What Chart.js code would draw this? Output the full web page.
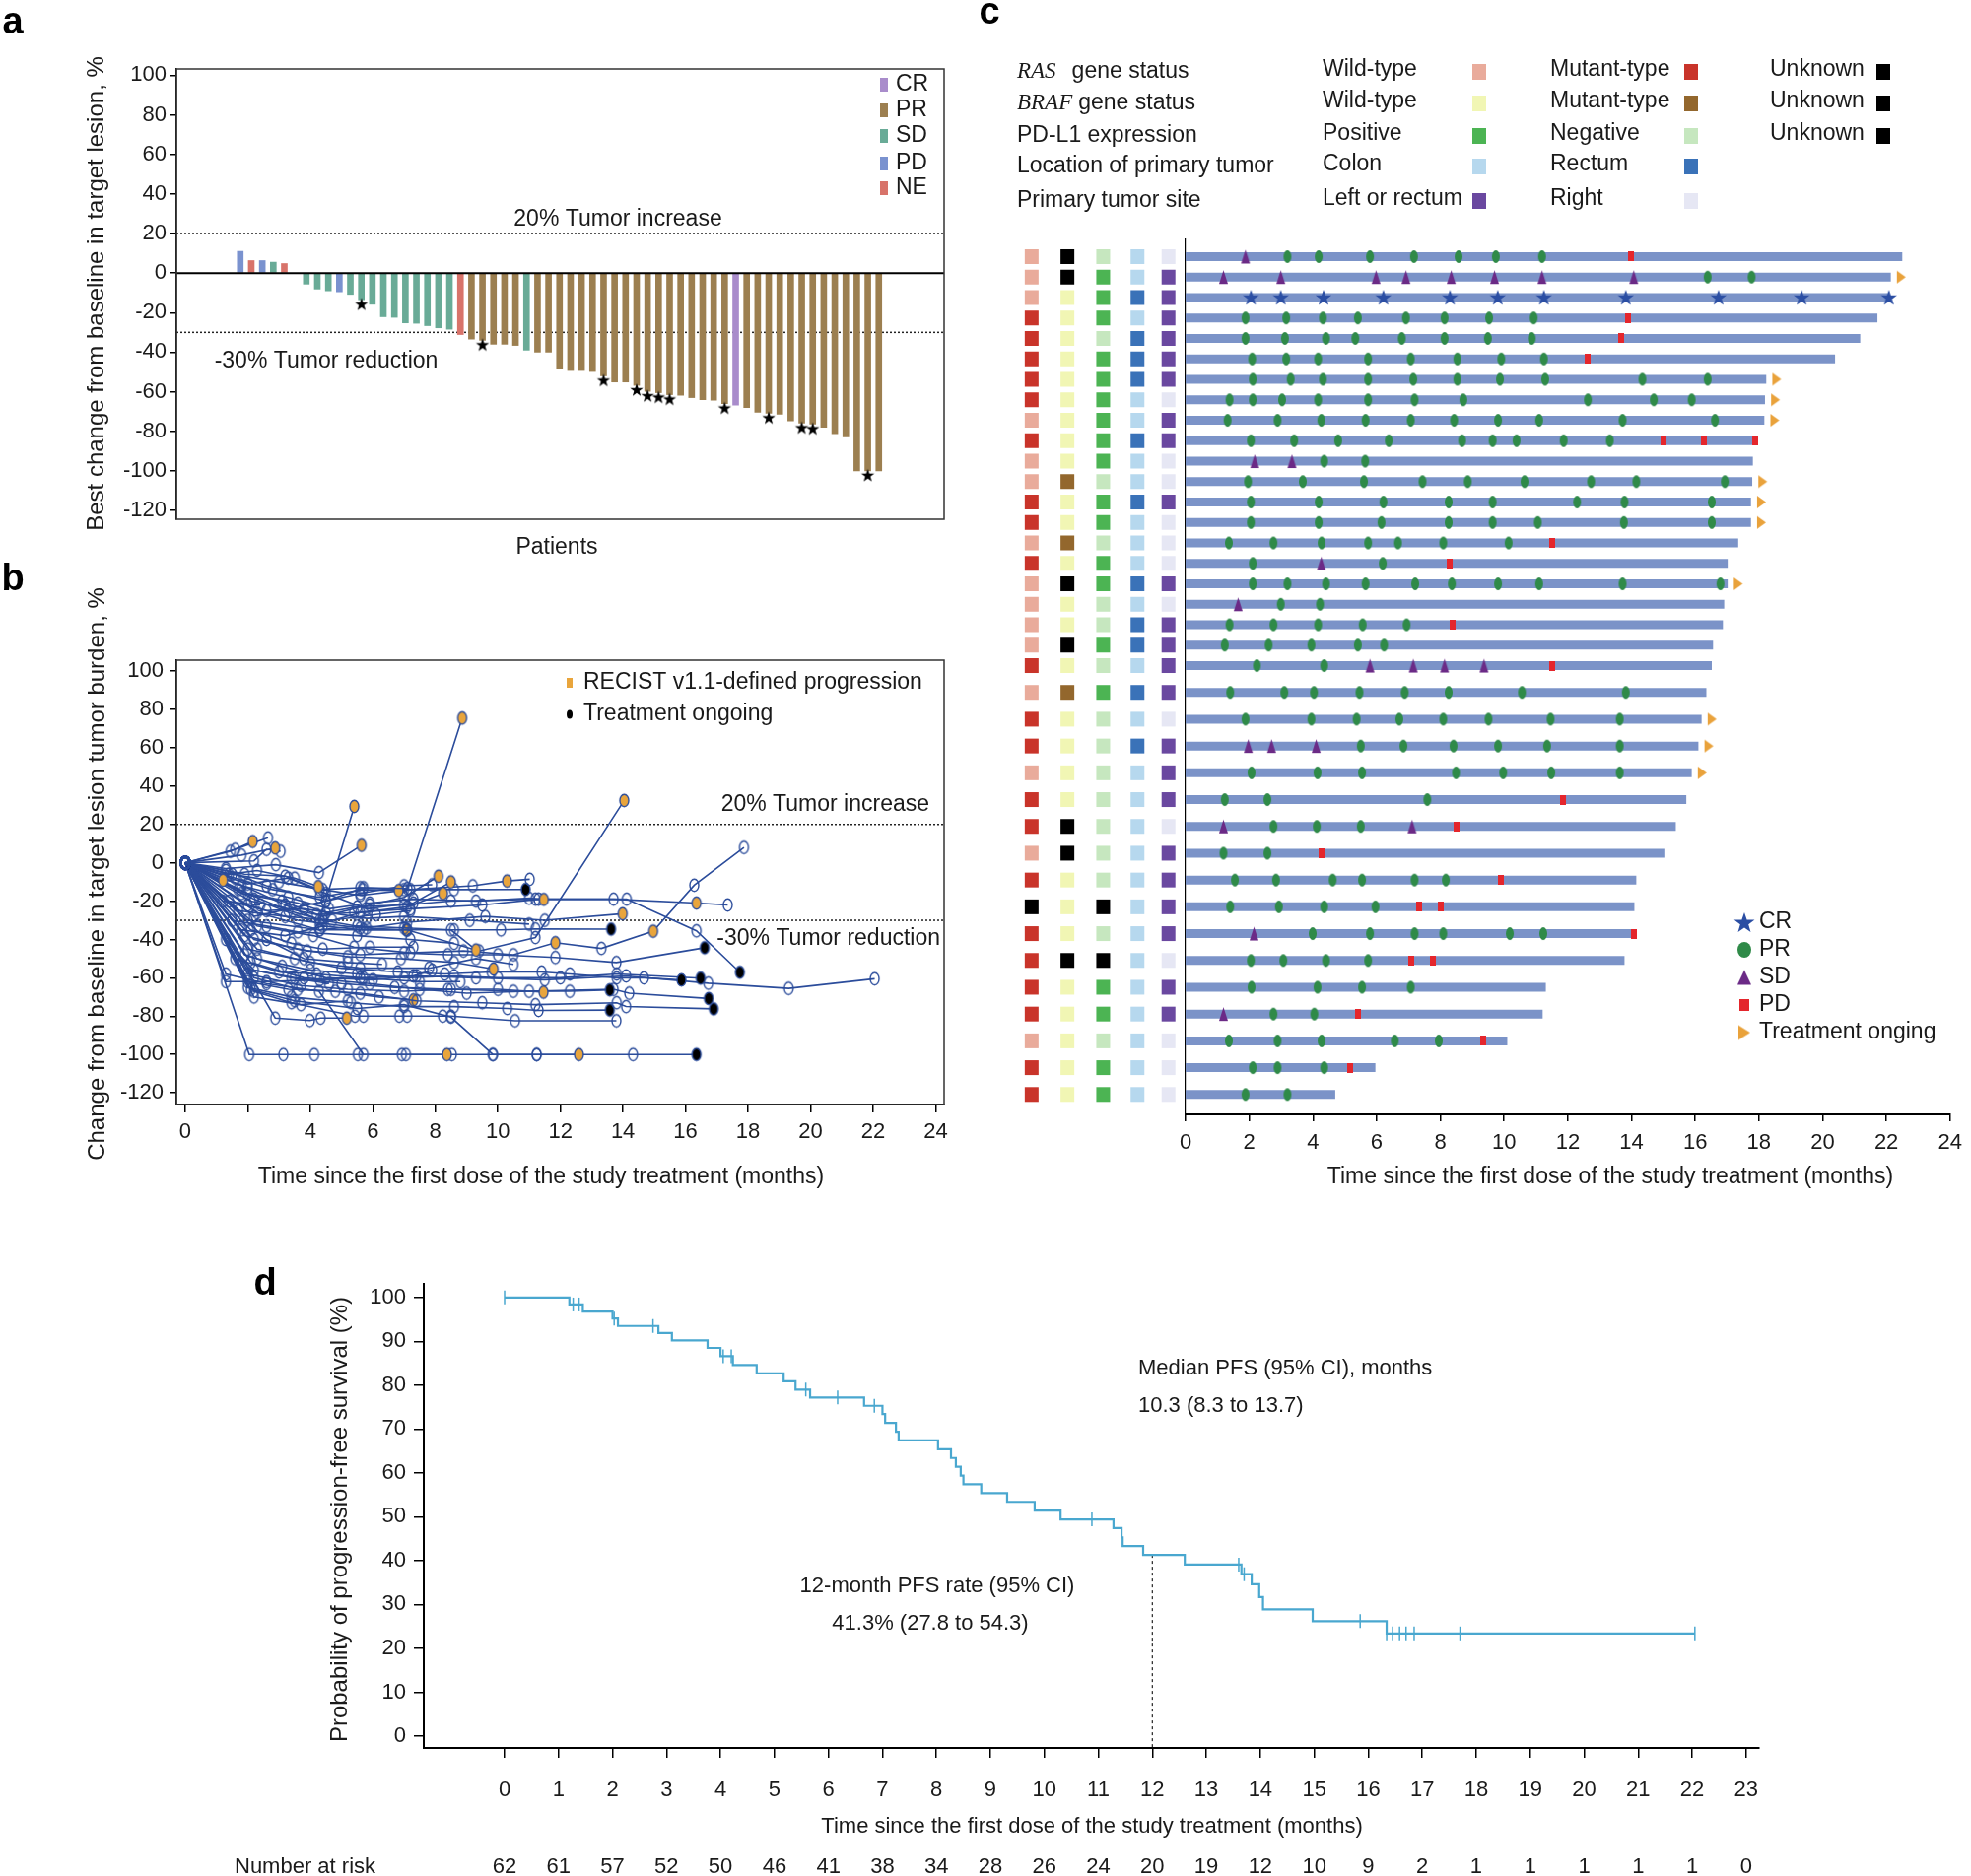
<!DOCTYPE html>
<html lang="en">
<head>
<meta charset="UTF-8">
<title>Tumor response, swimmer and PFS panels</title>
<script src="https://cdn.jsdelivr.net/npm/chart.js"></script>
<style>
  body { margin: 0; background: #fff; }
  #page { position: relative; width: 2000px; height: 1904px; overflow: hidden; background: #fff; }
  canvas { position: absolute; }
</style>
</head>
<body>
<div id="page">
  <canvas id="chartA" width="1000" height="590" style="left:0px;top:0px"></canvas>
  <canvas id="chartB" width="1000" height="670" style="left:0px;top:560px"></canvas>
  <canvas id="chartC" width="1020" height="1230" style="left:980px;top:0px"></canvas>
  <canvas id="chartD" width="2000" height="674" style="left:0px;top:1230px"></canvas>
</div>
<script>
// ---------- panel a: best change waterfall ----------
const waterfallValues = [11, 6.3, 6.3, 5.5, 4.8, null, -5.6, -8.1, -9, -9.5, -10.8, -13.5, -15.8, -22.1, -22.4,
  -25.2, -25.4, -26.6, -27.7, -28.4, -31.1, -33.4, -34, -36, -36, -36.6, -39, -40, -40, -48.2, -49.3, -49.3,
  -49.8, -52, -55.1, -55.1, -56.8, -59.8, -60.5, -61.5, -61.8, -63, -64, -64.3, -66, -66.8, -68, -70.4, -70.9,
  -71.4, -74.8, -75.9, -76.4, -78, -81.2, -82.9, -100, -100, -100];
const waterfallResponse = ['PD', 'NE', 'PD', 'SD', 'NE', null,
  'SD', 'SD', 'SD', 'PD', 'SD', 'SD', 'SD', 'SD', 'SD', 'SD', 'SD', 'SD', 'SD', 'SD',
  'NE', 'PR', 'PR', 'PR', 'PR', 'PR', 'SD',
  'PR', 'PR', 'PR', 'PR', 'PR', 'PR', 'PR', 'PR', 'PR', 'PR', 'PR', 'PR', 'PR', 'PR', 'PR', 'PR', 'PR', 'PR',
  'CR', 'PR', 'PR', 'PR', 'PR', 'PR', 'PR', 'PR', 'PR', 'PR', 'PR', 'PR', 'PR', 'PR'];
const waterfallStars = [11, 22, 33, 36, 37, 38, 39, 44, 48, 51, 52, 57];
const responseNames = ['CR', 'PR', 'SD', 'PD', 'NE'];
const responseColors = { CR: '#a98ccb', PR: '#9c7f50', SD: '#69ab97', PD: '#7a92cf', NE: '#d8736a' };
const changeTicks = [-120, -100, -80, -60, -40, -20, 0, 20, 40, 60, 80, 100];
const refLines = [20, -30];

// ---------- panel b: spider plot ----------
// pd = index of RECIST progression point, on = last point is treatment ongoing
const spiderLines = [
  { pts: [[0,0],[1.45,6],[2.16,11.1]], pd: [2] },
  { pts: [[0,0],[1.6,7],[2.65,13]] },
  { pts: [[0,0],[1.8,4],[2.88,7.7]], pd: [2] },
  { pts: [[0,0],[2.2,1],[2.6,7],[3.05,6]] },
  { pts: [[0,0],[1.21,-9.1]], pd: [1] },
  { pts: [[0,0],[1.3,-3],[2.9,-1],[4.28,-5.1],[5.64,9.1]], pd: [4] },
  { pts: [[0,0],[2.0,-13],[3.2,-22],[4.3,-30],[5.41,29.4]], pd: [4] },
  { pts: [[0,0],[1.4,-6],[2.3,-4],[3.5,-8],[4.26,-12.4]], pd: [4] },
  { pts: [[0,0],[1.3,-4],[2.6,-12],[4.5,-20],[5.7,-13],[7.11,-13.4],[8.86,75.5]], pd: [6] },
  { pts: [[0,0],[1.6,-8],[2.8,-14],[4.3,-18],[5.68,-14],[6.83,-14.5]], pd: [5] },
  { pts: [[0,0],[1.8,-16],[3.1,-20],[4.4,-28],[5.9,-22],[7.0,-18],[8.1,-7]], pd: [6] },
  { pts: [[0,0],[2.0,-11],[3.3,-8],[4.5,-16],[5.8,-24],[7.3,-21],[8.5,-10]], pd: [6] },
  { pts: [[0,0],[2.2,-19],[4.3,-32],[5.6,-26],[7.1,-23],[8.25,-16]], pd: [5] },
  { pts: [[0,0],[1.5,-6],[3.0,-10],[4.4,-14],[5.6,-17],[7.2,-14],[9.2,-12],[10.29,-9.5],[11.02,-8.6]], pd: [7] },
  { pts: [[0,0],[1.9,-6],[3.2,-7],[4.3,-14],[5.6,-13],[7.0,-14],[8.6,-14],[10.89,-13.9]], on: true },
  { pts: [[0,0],[1.8,-12],[3.3,-18],[4.6,-24],[5.9,-21],[7.3,-19],[9.3,-20],[11.0,-18.5],[11.47,-19.1]], pd: [8] },
  { pts: [[0,0],[2.0,-16],[3.6,-21],[4.5,-26],[5.5,-23],[7.0,-22],[8.5,-20],[11.2,-19],[13.7,-19],[16.35,-21],[17.35,-22]], pd: [9] },
  { pts: [[0,0],[2.1,-20],[4.2,-27],[5.4,-26],[7.2,-24],[9.5,-22],[11.3,-19],[14.12,-19],[16.35,-35.5],[17.74,-57.1]], on: true },
  { pts: [[0,0],[1.7,-14],[3.3,-25],[4.4,-30],[5.8,-34],[7.1,-31],[9.6,-28],[11.5,-30],[13.99,-26.6]], pd: [8] },
  { pts: [[0,0],[2.0,-22],[3.6,-30],[5.6,-34],[7.1,-35],[8.6,-35],[10.1,-35],[11.2,-34.5],[13.62,-34.6]], on: true },
  { pts: [[0,0],[2.3,-26],[4.3,-35],[5.5,-33],[7.0,-34],[8.5,-35],[9.3,-45.5]], pd: [6] },
  { pts: [[0,0],[2.0,-30],[4.3,-35],[7.1,-35],[9.4,-46],[11.2,-39],[14.04,32.5]], pd: [6] },
  { pts: [[0,0],[2.3,-33],[4.1,-38],[5.4,-44],[7.2,-47],[8.9,-46],[10.5,-48],[11.84,-41.7],[13.31,-44.7],[14.97,-35.7],[16.28,-11.7],[17.87,8]], pd: [7, 9] },
  { pts: [[0,0],[1.9,-38],[3.6,-45],[5.2,-49],[6.9,-50],[8.6,-52],[9.86,-55.4]], pd: [6] },
  { pts: [[0,0],[2.2,-40],[3.9,-46],[5.6,-48],[7.0,-47],[8.4,-48],[10.0,-48],[11.84,-49.4],[13.79,-52],[16.61,-44.3]], on: true },
  { pts: [[0,0],[2.0,-45],[3.5,-50],[5.0,-55],[6.8,-57],[8.3,-58],[9.8,-57],[11.4,-57],[12.3,-58],[13.8,-60],[14.67,-60],[15.87,-61.1]], on: true },
  { pts: [[0,0],[2.3,-50],[4.0,-56],[5.5,-58],[7.0,-60],[8.6,-59],[10.0,-60],[12.0,-60],[13.8,-58],[16.48,-60.2]], on: true },
  { pts: [[0,0],[1.3,-62],[2.6,-62],[4.3,-61],[5.7,-60],[7.4,-59],[9.3,-60],[11.5,-61],[14.1,-59],[16.73,-62.8],[19.3,-65.5],[22.05,-60.5]] },
  { pts: [[0,0],[1.9,-55],[3.5,-60],[5.0,-63],[6.7,-65],[8.4,-66],[10.0,-66],[11.46,-67.5]], pd: [7] },
  { pts: [[0,0],[2.0,-58],[3.7,-64],[5.2,-66],[7.0,-67],[8.5,-66],[10.5,-67],[12.3,-67],[13.58,-66.3]], on: true },
  { pts: [[0,0],[2.1,-52],[3.8,-60],[5.9,-63],[7.5,-66],[9.0,-68],[11.0,-67],[13.7,-66],[14.2,-68],[16.74,-70.8]], on: true },
  { pts: [[0,0],[2.2,-60],[3.6,-66],[5.6,-68],[7.4,-72],[9.5,-73],[11.2,-74],[13.8,-73],[14.1,-75],[16.9,-76.2]], on: true },
  { pts: [[0,0],[2.0,-65],[3.4,-70],[5.3,-73],[7.0,-75],[8.6,-75],[10.3,-76],[11.3,-77],[13.58,-76.8]], on: true },
  { pts: [[0,0],[2.88,-81],[3.99,-82.3],[4.33,-81],[5.17,-81]], pd: [4] },
  { pts: [[0,0],[2.2,-67],[3.4,-73],[5.43,-80],[5.7,-80],[6.85,-80],[7.1,-80],[8.24,-80],[8.5,-80],[10.55,-82.4],[13.79,-82.4]] },
  { pts: [[0,0],[2.05,-100],[3.14,-100],[4.13,-100],[5.52,-100],[6.93,-100],[8.37,-100]], pd: [6] },
  { pts: [[0,0],[1.3,-58],[2.6,-63],[4.28,-67],[5.7,-100],[7.06,-100],[8.53,-100],[9.84,-100],[11.24,-100],[12.59,-100]], pd: [9] },
  { pts: [[0,0],[2.1,-66],[3.5,-72],[5.5,-76],[7.0,-74],[8.5,-80.5],[9.84,-100],[11.24,-100],[14.32,-100],[16.35,-100]], on: true },
  { pts: [[0,0],[1.5,-30],[2.6,-33],[3.6,-36],[5.5,-38],[7.2,-40],[8.6,-42]] },
  { pts: [[0,0],[1.7,-25],[3.2,-28],[4.7,-30],[6.1,-27],[7.2,-25]] },
  { pts: [[0,0],[2.1,-35],[3.4,-42],[4.4,-45],[5.9,-44],[7.3,-44]] },
  { pts: [[0,0],[1.4,-20],[2.6,-25],[3.8,-24],[5.8,-29],[7.0,-28],[9.1,-30],[11.0,-32]] },
  { pts: [[0,0],[2.3,-45],[4.0,-52],[5.6,-55],[7.8,-55],[9.3,-50],[10.5,-53]] },
  { pts: [[0,0],[1.9,-48],[3.1,-54],[4.5,-60],[6.0,-61],[7.3,-59],[7.9,-56]] },
  { pts: [[0,0],[2.6,-40],[3.8,-50],[5.2,-52],[6.3,-53]] },
  { pts: [[0,0],[1.2,-20],[2.4,-22]] },
  { pts: [[0,0],[2.2,-28],[4.5,-20],[5.6,-16],[7.0,-12],[7.9,-11.5]] },
  { pts: [[0,0],[1.8,-35],[3.2,-38],[4.4,-33],[5.7,-35],[7.08,-35]], pd: [5] },
  { pts: [[0,0],[2.0,-62],[3.3,-66],[4.8,-67],[6.2,-70],[7.3,-71.5]], pd: [5] },
  { pts: [[0,0],[1.3,-40],[2.2,-56],[3.4,-60],[4.6,-63]] },
  { pts: [[0,0],[2.2,-70],[3.7,-74],[5.2,-72]] },
  { pts: [[0,0],[1.6,-50],[3.0,-57],[4.2,-58],[5.6,-60],[7.5,-62],[8.8,-62]] }
];
const monthTicks = [0, 2, 4, 6, 8, 10, 12, 14, 16, 18, 20, 22, 24];

// ---------- panel c: swimmer plot, one entry per patient row ----------
const rasStatus  = ['W','W','W','M','M','M','M','M','W','M','W','W','M','M','W','M','W','W','W','W','M','W','M','M','W','M','M','W','M','U','M','M','M','M','W','M','M'];
const brafStatus = ['U','U','W','W','W','W','W','W','W','W','W','M','W','W','M','W','U','W','W','U','W','M','W','W','W','W','U','U','W','W','W','U','W','W','W','W','W'];
const pdl1Status = ['N','P','P','P','N','P','P','P','P','P','P','N','P','P','N','P','P','N','N','P','N','P','N','N','N','N','N','N','N','U','N','U','P','P','N','P','P'];
const tumorLocation = ['C','C','R','C','R','R','R','C','C','R','C','C','R','C','C','C','R','C','R','R','C','R','C','R','C','C','C','C','C','C','C','C','C','C','C','C','C'];
const tumorSite  = ['R','L','L','L','L','L','L','R','L','L','R','R','L','R','R','R','L','R','L','L','L','L','R','L','L','L','R','L','L','L','L','R','L','L','R','R','R'];
const swimEnd = [22.5, 22.14, 22.08, 21.72, 21.18, 20.39, 18.23, 18.19, 18.17, 17.96, 17.81, 17.79, 17.75, 17.75,
  17.35, 17.02, 17.02, 16.91, 16.87, 16.56, 16.52, 16.35, 16.2, 16.1, 15.89, 15.72, 15.39, 15.03, 14.15, 14.09,
  14.09, 13.78, 11.31, 11.21, 10.1, 5.96, 4.7];
const swimOngoing = [0,1,0,0,0,0,1,1,1,0,0,1,1,1,0,0,1,0,0,0,0,0,1,1,1,0,0,0,0,0,0,0,0,0,0,0,0];
const swimCR = [[], [], [2.05,2.99,4.33,6.21,8.3,9.8,11.25,13.82,16.73,19.34,22.08]];
const swimPR = [
  [3.2,4.18,5.79,7.17,8.57,9.74,11.19], [16.39,17.77], [],
  [1.88,3.16,4.31,5.41,6.92,8.13,9.53,10.93], [1.88,3.12,4.41,5.33,6.79,8.13,9.49,10.87],
  [2.09,3.16,4.16,5.73,7.07,8.53,9.91,11.25], [2.11,3.3,4.31,5.73,7.15,8.53,9.87,11.29,14.34,16.39],
  [1.38,2.11,3.03,4.16,5.73,7.19,8.72,12.63,14.7,15.89], [1.32,2.89,4.26,5.65,7.07,8.43,9.81,11.1,13.72,16.62],
  [2.05,3.41,4.79,6.38,8.68,9.64,10.39,11.87,13.32], [4.35,5.64],
  [1.96,3.68,5.6,7.44,8.86,10.64,12.73,14.15,16.93], [2.05,4.18,6.21,8.26,9.64,12.29,13.78,16.52],
  [2.05,4.18,6.15,8.26,9.64,11.06,13.76,16.52], [1.36,2.76,4.27,5.73,6.67,8.09,10.14], [2.11,6.19],
  [2.11,3.2,4.41,5.65,7.21,8.36,9.81,11.1,13.72,16.79], [2.99,4.22], [1.38,2.76,4.16,5.56,6.94],
  [1.23,2.61,3.95,5.41,6.23], [2.24,4.35], [1.4,3.1,4.03,5.46,6.88,8.26,10.56,13.82],
  [1.88,3.95,5.37,6.71,8.09,9.51,11.46,13.63], [5.5,6.84,8.41,9.81,11.35,13.63],
  [2.07,4.14,5.54,8.49,9.97,11.48,13.63], [1.23,2.57,7.59], [2.76,4.12,5.5], [1.19,2.57],
  [1.55,2.84,4.62,5.54,7.19,8.17], [1.4,2.93,4.35,5.96], [3.99,5.79,7.19,8.09,10.18,11.23],
  [2.05,3.07,4.41,5.73], [2.07,4.14,5.54,7.07], [2.76,4.04], [1.36,2.89,4.27,6.57,7.95],
  [2.11,2.89,4.35], [1.88,3.2]
];
const swimSD = [
  [1.88], [1.19,2.99,5.98,6.92,8.34,9.7,11.19,14.07], [], [], [], [], [], [], [], [], [2.17,3.34], [], [], [], [],
  [4.26], [], [1.65], [], [], [5.79,7.15,8.13,9.37], [], [], [1.97,2.7,4.1], [], [], [1.19,7.11], [], [], [],
  [2.15], [], [], [1.19], [], [], []
];
const swimPD = [
  [13.99], [], [], [13.9], [13.67], [12.61], [], [], [], [14.99,16.27,17.88], [], [], [], [], [11.5], [8.28],
  [], [], [8.38], [], [11.5], [], [], [], [], [11.85], [8.51], [4.26], [9.89], [7.32,8.01], [14.07],
  [7.09,7.78], [], [5.42], [9.33], [5.18], []
];
const cellColors = {
  ras:  { W: '#e9ab9b', M: '#c9342a', U: '#000000' },
  braf: { W: '#f1f6b4', M: '#93672d', U: '#000000' },
  pdl1: { P: '#4cb453', N: '#c6e7bf', U: '#000000' },
  loc:  { C: '#b6d8ee', R: '#3a72b8' },
  site: { L: '#6a48a0', R: '#e6e7f4' }
};

// ---------- panel d: Kaplan-Meier PFS ----------
const kmTime = [0, 1.2, 1.45, 2.0, 2.1, 2.85, 3.1, 3.76, 4.0, 4.23, 4.67, 5.17, 5.39, 5.66, 6.66, 7.0, 7.05, 7.25,
  7.3, 8.03, 8.27, 8.36, 8.45, 8.5, 8.83, 9.31, 9.82, 10.3, 11.28, 11.43, 11.45, 11.83, 12.6, 13.65, 13.84, 13.98,
  14.05, 14.97, 16.34, 22.05];
const kmSurv = [100, 98.4, 96.8, 95.2, 93.5, 91.9, 90.2, 88.5, 86.6, 84.6, 82.7, 80.9, 79.0, 77.2, 75.3, 73.4, 71.4,
  69.4, 67.4, 65.4, 63.4, 61.4, 59.4, 57.4, 55.4, 53.4, 51.4, 49.4, 47.4, 45.3, 43.3, 41.3, 39.1, 36.9, 34.6, 31.7,
  28.9, 26.2, 23.4, 23.4];
const kmCensor = [0, 1.27, 1.38, 2.03, 2.75, 4.05, 4.2, 5.58, 6.17, 6.85, 10.88, 13.6, 13.7, 15.85, 16.34, 16.45,
  16.58, 16.7, 16.85, 17.7, 22.05];
const numberAtRisk = [62, 61, 57, 52, 50, 46, 41, 38, 34, 28, 26, 24, 20, 19, 12, 10, 9, 2, 1, 1, 1, 1, 1, 0];
const kmMonthTicks = Array.from({ length: 24 }, (_, i) => i);
const pctTicks = [0, 10, 20, 30, 40, 50, 60, 70, 80, 90, 100];

// ---------- shared helpers ----------
const FONT = '"Liberation Sans", Arial, Helvetica, sans-serif';
Chart.defaults.font.family = FONT;
Chart.defaults.font.size = 22;
Chart.defaults.color = '#1a1a1a';
const INK = '#1a1a1a';
const NAVY = '#2b4c9b';

function text(ctx, str, x, y, opt = {}) {
  ctx.save();
  ctx.font = opt.font || ('23px ' + FONT);
  ctx.fillStyle = opt.color || INK;
  ctx.textAlign = opt.align || 'left';
  ctx.textBaseline = 'middle';
  if (opt.rotate) {
    ctx.translate(x, y); ctx.rotate(opt.rotate); ctx.fillText(str, 0, 0);
  } else {
    ctx.fillText(str, x, y);
  }
  ctx.restore();
}
function marker(w, h, draw) {
  const c = document.createElement('canvas');
  c.width = w; c.height = h;
  draw(c.getContext('2d'), w, h);
  return c;
}
function starPath(g, cx, cy, ro, ri) {
  g.beginPath();
  for (let k = 0; k < 10; k++) {
    const r = k % 2 ? ri : ro;
    const ang = -Math.PI / 2 + k * Math.PI / 5;
    g.lineTo(cx + r * Math.cos(ang), cy + r * Math.sin(ang));
  }
  g.closePath();
}
function ellipse(fill, stroke, rx, ry) {
  return marker(Math.ceil(rx * 2 + 4), Math.ceil(ry * 2 + 4), (g, w, h) => {
    g.beginPath(); g.ellipse(w / 2, h / 2, rx, ry, 0, 0, Math.PI * 2);
    if (fill) { g.fillStyle = fill; g.fill(); }
    if (stroke) { g.strokeStyle = stroke; g.lineWidth = 1.4; g.stroke(); }
  });
}
function triangleUp(color, w, h) {
  return marker(w + 2, h + 2, (g) => {
    g.fillStyle = color; g.beginPath();
    g.moveTo(1 + w / 2, 1); g.lineTo(1 + w, 1 + h); g.lineTo(1, 1 + h); g.closePath(); g.fill();
  });
}
function triangleRight(color, w, h) {
  return marker(w + 2, h + 2, (g) => {
    g.fillStyle = color; g.beginPath();
    g.moveTo(1, 1); g.lineTo(1 + w, 1 + h / 2); g.lineTo(1, 1 + h); g.closePath(); g.fill();
  });
}
function box(color, w, h) {
  return marker(w, h, (g) => { g.fillStyle = color; g.fillRect(0, 0, w, h); });
}
function fixedTicks(list) {
  return (scale) => { scale.ticks = list.map(v => ({ value: v })); };
}
function hLine(ctx, area, py, dash, width, color) {
  ctx.save();
  ctx.strokeStyle = color; ctx.lineWidth = width; ctx.setLineDash(dash);
  ctx.beginPath(); ctx.moveTo(area.left, py); ctx.lineTo(area.right, py); ctx.stroke();
  ctx.restore();
}
function frame(ctx, a) {
  ctx.save();
  ctx.strokeStyle = '#333'; ctx.lineWidth = 1.5;
  ctx.strokeRect(a.left, a.top, a.right - a.left, a.bottom - a.top);
  ctx.restore();
}

const blackStar = marker(16, 26, (g) => { g.fillStyle = '#000'; starPath(g, 8, 18, 7, 2.8); g.fill(); });
const openRing = ellipse(null, NAVY, 4.5, 6.2);
const orangeRing = ellipse('#e9a53c', NAVY, 4.5, 6.2);
const blackRing = ellipse('#000', NAVY, 4.5, 6.2);
const crStar = marker(20, 20, (g) => { g.fillStyle = '#2b4ea3'; starPath(g, 10, 10.5, 8.5, 3.4); g.fill(); });
const prDot = ellipse('#2f8a48', null, 4, 6.5);
const sdTri = triangleUp('#6b2a86', 9, 14);
const pdBox = box('#e4262c', 6, 10);
const onArrow = triangleRight('#e9a23b', 9, 13);
const commonOpts = {
  animation: false, responsive: false, events: [],
  plugins: { legend: { display: false }, tooltip: { enabled: false } }
};

// ---------- chart a ----------
new Chart(document.getElementById('chartA'), {
  type: 'bar',
  data: {
    datasets: [
      {
        type: 'scatter', order: 0,
        data: waterfallStars.map(i => ({ x: i, y: waterfallValues[i] })),
        pointStyle: blackStar, pointRadius: 5
      },
      {
        order: 1,
        data: waterfallValues.map((v, i) => ({ x: i, y: v })),
        backgroundColor: waterfallResponse.map(r => r ? responseColors[r] : 'transparent'),
        barThickness: 6, borderWidth: 0
      }
    ]
  },
  options: {
    ...commonOpts,
    layout: { padding: { top: 70, right: 42, left: 0, bottom: 0 } },
    scales: {
      x: {
        type: 'linear', min: -0.82, max: 58.95,
        ticks: { display: false }, grid: { display: false }, border: { display: false },
        afterFit: s => { s.height = 63; }
      },
      y: {
        min: -124.5, max: 103.2,
        afterBuildTicks: fixedTicks(changeTicks),
        ticks: { padding: 4, color: INK },
        grid: { drawOnChartArea: false, tickLength: 6, color: '#000', lineWidth: 1.5 },
        border: { color: '#000', width: 1.5 },
        afterFit: s => { s.width = 179; }
      }
    }
  },
  plugins: [{
    id: 'decoA',
    beforeDatasetsDraw(chart) {
      const { ctx, chartArea, scales: { y } } = chart;
      refLines.forEach(v => hLine(ctx, chartArea, y.getPixelForValue(v), [2, 2], 1.5, '#222'));
    },
    afterDatasetsDraw(chart) {
      const { ctx, chartArea, scales: { y } } = chart;
      hLine(ctx, chartArea, y.getPixelForValue(0), [], 2, '#000');
      frame(ctx, chartArea);
    },
    afterDraw(chart) {
      const ctx = chart.ctx;
      text(ctx, 'a', 13, 24, { font: 'bold 38px ' + FONT, align: 'center', color: '#000' });
      text(ctx, 'Best change from baseline in target lesion, %', 98, 298, { align: 'center', rotate: -Math.PI / 2, font: '24px ' + FONT });
      text(ctx, '20% Tumor increase', 627, 223, { align: 'center' });
      text(ctx, '-30% Tumor reduction', 331, 367, { align: 'center' });
      text(ctx, 'Patients', 565, 556, { align: 'center' });
      const legendY = [86, 112, 138, 166, 191];
      responseNames.forEach((r, i) => {
        ctx.fillStyle = responseColors[r];
        ctx.fillRect(893, legendY[i] - 7, 8, 14);
        text(ctx, r, 909, legendY[i]);
      });
    }
  }]
});

// ---------- chart b ----------
function spiderStyle(c) {
  const line = spiderLines[c.datasetIndex];
  if (!line) return openRing;
  if (line.pd && line.pd.includes(c.dataIndex)) return orangeRing;
  if (line.on && c.dataIndex === line.pts.length - 1) return blackRing;
  return openRing;
}
new Chart(document.getElementById('chartB'), {
  type: 'line',
  data: {
    datasets: spiderLines.map(l => ({
      data: l.pts.map(p => ({ x: p[0], y: p[1] })),
      borderColor: NAVY, borderWidth: 1.6, tension: 0,
      pointStyle: spiderStyle, pointRadius: 5
    }))
  },
  options: {
    ...commonOpts,
    layout: { padding: { top: 110, right: 42, left: 0, bottom: 0 } },
    scales: {
      x: {
        type: 'linear', min: -0.28, max: 24.27,
        afterBuildTicks: fixedTicks(monthTicks),
        ticks: { padding: 7, color: INK, autoSkip: false, maxRotation: 0, callback: v => v === 2 ? '' : v },
        grid: { drawOnChartArea: false, tickLength: 8, color: '#000', lineWidth: 1.5 },
        border: { color: '#000', width: 1.5 },
        afterFit: s => { s.height = 109; }
      },
      y: {
        min: -126.1, max: 105.7,
        afterBuildTicks: fixedTicks(changeTicks),
        ticks: { padding: 6, color: INK },
        grid: { drawOnChartArea: false, tickLength: 7, color: '#000', lineWidth: 1.5 },
        border: { color: '#000', width: 1.5 },
        afterFit: s => { s.width = 179; }
      }
    }
  },
  plugins: [{
    id: 'decoB',
    beforeDatasetsDraw(chart) {
      const { ctx, chartArea, scales: { y } } = chart;
      refLines.forEach(v => hLine(ctx, chartArea, y.getPixelForValue(v), [2, 2], 1.5, '#222'));
    },
    afterDraw(chart) {
      const ctx = chart.ctx;
      frame(ctx, chart.chartArea);
      text(ctx, 'b', 13, 29, { font: 'bold 38px ' + FONT, align: 'center', color: '#000' });
      text(ctx, 'Change from baseline in target lesion tumor burden, %', 99, 327, { align: 'center', rotate: -Math.PI / 2, font: '24px ' + FONT });
      text(ctx, 'Time since the first dose of the study treatment (months)', 549, 635, { align: 'center' });
      text(ctx, '20% Tumor increase', 943, 257, { align: 'right' });
      text(ctx, '-30% Tumor reduction', 954, 393, { align: 'right' });
      ctx.fillStyle = '#e9a53c';
      ctx.fillRect(575, 128, 6, 10);
      ctx.fillStyle = '#000';
      ctx.beginPath(); ctx.ellipse(578, 165, 3, 4.5, 0, 0, Math.PI * 2); ctx.fill();
      text(ctx, 'RECIST v1.1-defined progression', 592, 133);
      text(ctx, 'Treatment ongoing', 592, 165);
    }
  }]
});

// ---------- chart c ----------
function rowPos(i) { return i <= 20 ? i : 20 + (i - 20) * 1.311; }
const cellColumns = [
  { x: -4.831, key: 'ras', values: rasStatus },
  { x: -3.708, key: 'braf', values: brafStatus },
  { x: -2.585, key: 'pdl1', values: pdl1Status },
  { x: -1.508, key: 'loc', values: tumorLocation },
  { x: -0.535, key: 'site', values: tumorSite }
];
function rowMarks(list) {
  return list.flatMap((times, i) => times.map(t => ({ x: t, y: rowPos(i) })));
}
const swimDatasets = [
  { type: 'scatter', order: 0, data: rowMarks(swimCR), pointStyle: crStar, pointRadius: 5 },
  { type: 'scatter', order: 0, data: rowMarks(swimPR), pointStyle: prDot, pointRadius: 5 },
  { type: 'scatter', order: 0, data: rowMarks(swimSD), pointStyle: sdTri, pointRadius: 5 },
  { type: 'scatter', order: 0, data: rowMarks(swimPD), pointStyle: pdBox, pointRadius: 5 },
  {
    type: 'scatter', order: 0, pointStyle: onArrow, pointRadius: 5,
    data: swimEnd.map((e, i) => swimOngoing[i] ? { x: e + 0.33, y: rowPos(i) } : null).filter(Boolean)
  }
];
swimEnd.forEach((e, i) => swimDatasets.push({
  type: 'line', order: 1,
  data: [{ x: 0, y: rowPos(i) }, { x: e, y: rowPos(i) }],
  borderColor: '#7b93c8', borderWidth: 9, borderCapStyle: 'butt', pointRadius: 0
}));
new Chart(document.getElementById('chartC'), {
  type: 'scatter',
  data: { datasets: swimDatasets },
  options: {
    ...commonOpts,
    layout: { padding: { top: 243, right: 17, left: 0, bottom: 0 } },
    scales: {
      x: {
        type: 'linear', min: 0, max: 24,
        afterBuildTicks: fixedTicks(monthTicks),
        ticks: { padding: 9, color: INK, autoSkip: false, maxRotation: 0 },
        grid: { drawOnChartArea: false, tickLength: 7, color: '#000', lineWidth: 1.5 },
        border: { color: '#000', width: 2 },
        afterFit: s => { s.height = 99; }
      },
      y: {
        type: 'linear', min: -0.843, max: 41.95, reverse: true,
        ticks: { display: false }, grid: { display: false },
        border: { color: '#000', width: 1.2 },
        afterFit: s => { s.width = 223; }
      }
    }
  },
  plugins: [{
    id: 'decoC',
    afterDatasetsDraw(chart) {
      const { ctx, scales: { x, y } } = chart;
      ctx.save();
      cellColumns.forEach(col => {
        const px = x.getPixelForValue(col.x);
        col.values.forEach((v, i) => {
          ctx.fillStyle = cellColors[col.key][v];
          ctx.fillRect(px - 7, y.getPixelForValue(rowPos(i)) - 7.5, 14, 15);
        });
      });
      ctx.restore();
    },
    afterDraw(chart) {
      const ctx = chart.ctx;
      text(ctx, 'c', 24, 14, { font: 'bold 38px ' + FONT, align: 'center', color: '#000' });
      // attribute legend
      const rowsY = [73, 105, 138, 169, 204];
      const serif = 'italic 23px "Liberation Serif", "Times New Roman", serif';
      ctx.save(); ctx.font = serif;
      const rasW = ctx.measureText('RAS').width, brafW = ctx.measureText('BRAF').width;
      ctx.restore();
      text(ctx, 'RAS', 52, rowsY[0], { font: serif });
      text(ctx, 'gene status', 52 + rasW + 16, rowsY[0]);
      text(ctx, 'BRAF', 52, rowsY[1], { font: serif });
      text(ctx, 'gene status', 52 + brafW + 6, rowsY[1]);
      text(ctx, 'PD-L1 expression', 52, rowsY[2]);
      text(ctx, 'Location of primary tumor', 52, rowsY[3]);
      text(ctx, 'Primary tumor site', 52, rowsY[4]);
      const legendCols = [
        { tx: 362, sx: 521, items: [['Wild-type', cellColors.ras.W], ['Wild-type', cellColors.braf.W], ['Positive', cellColors.pdl1.P], ['Colon', cellColors.loc.C], ['Left or rectum', cellColors.site.L]] },
        { tx: 593, sx: 736, items: [['Mutant-type', cellColors.ras.M], ['Mutant-type', cellColors.braf.M], ['Negative', cellColors.pdl1.N], ['Rectum', cellColors.loc.R], ['Right', cellColors.site.R]] },
        { tx: 816, sx: 931, items: [['Unknown', '#000'], ['Unknown', '#000'], ['Unknown', '#000']] }
      ];
      legendCols.forEach(col => col.items.forEach((it, i) => {
        text(ctx, it[0], col.tx, rowsY[i] - 2);
        ctx.fillStyle = it[1];
        ctx.fillRect(col.sx - 7, rowsY[i] - 8, 14, 16);
      }));
      // response legend
      const keyY = [936, 964, 992, 1020, 1048];
      const keyMarks = [
        marker(24, 24, g => { g.fillStyle = '#2b4ea3'; starPath(g, 12, 13, 11, 4.4); g.fill(); }),
        ellipse('#2f8a48', null, 7, 8),
        triangleUp('#6b2a86', 14, 15),
        box('#e4262c', 10, 12),
        triangleRight('#e9a23b', 12, 15)
      ];
      ['CR', 'PR', 'SD', 'PD', 'Treatment onging'].forEach((lab, i) => {
        const m = keyMarks[i];
        ctx.drawImage(m, 790 - m.width / 2, keyY[i] - m.height / 2);
        text(ctx, lab, 805, keyY[i]);
      });
      text(ctx, 'Time since the first dose of the study treatment (months)', 654, 1195, { align: 'center' });
    }
  }]
});

// ---------- chart d ----------
function kmAt(t) {
  let s = kmSurv[0];
  kmTime.forEach((k, i) => { if (k <= t) s = kmSurv[i]; });
  return s;
}
new Chart(document.getElementById('chartD'), {
  type: 'line',
  data: {
    datasets: [
      {
        data: kmTime.map((t, i) => ({ x: t, y: kmSurv[i] })),
        stepped: 'before', borderColor: '#49a7cf', borderWidth: 2.2, pointRadius: 0
      },
      {
        type: 'scatter', data: kmCensor.map(t => ({ x: t, y: kmAt(t) })),
        pointStyle: 'line', rotation: 90, pointRadius: 7, borderColor: '#49a7cf', borderWidth: 1.5
      },
      {
        data: [{ x: 12, y: kmAt(12) }, { x: 12, y: -2.7 }],
        borderColor: '#222', borderWidth: 1.2, borderDash: [3, 3], pointRadius: 0
      }
    ]
  },
  options: {
    ...commonOpts,
    layout: { padding: { top: 73, right: 215, left: 0, bottom: 0 } },
    scales: {
      x: {
        type: 'linear', min: -1.497, max: 23.24,
        afterBuildTicks: fixedTicks(kmMonthTicks),
        ticks: { padding: 20, color: INK, autoSkip: false, maxRotation: 0 },
        grid: { drawOnChartArea: false, tickLength: 10, color: '#000', lineWidth: 1.5 },
        border: { color: '#000', width: 2 },
        afterFit: s => { s.height = 130; }
      },
      y: {
        min: -2.7, max: 103.1,
        afterBuildTicks: fixedTicks(pctTicks),
        ticks: { padding: 8, color: INK },
        grid: { drawOnChartArea: false, tickLength: 10, color: '#000', lineWidth: 1.5 },
        border: { color: '#000', width: 2 },
        afterFit: s => { s.width = 430; }
      }
    }
  },
  plugins: [{
    id: 'decoD',
    afterDraw(chart) {
      const { ctx, scales: { x } } = chart;
      text(ctx, 'd', 269, 74, { font: 'bold 38px ' + FONT, align: 'center', color: '#000' });
      text(ctx, 'Probability of progression-free survival (%)', 345, 312, { align: 'center', rotate: -Math.PI / 2, font: '24px ' + FONT });
      text(ctx, 'Median PFS (95% CI), months', 1155, 159, { font: '22px ' + FONT });
      text(ctx, '10.3 (8.3 to 13.7)', 1155, 197, { font: '22px ' + FONT });
      text(ctx, '12-month PFS rate (95% CI)', 951, 380, { align: 'center', font: '22px ' + FONT });
      text(ctx, '41.3% (27.8 to 54.3)', 944, 418, { align: 'center', font: '22px ' + FONT });
      text(ctx, 'Time since the first dose of the study treatment (months)', 1108, 624, { align: 'center', font: '22px ' + FONT });
      text(ctx, 'Number at risk', 238, 665, { font: '22px ' + FONT });
      numberAtRisk.forEach((n, i) => {
        text(ctx, String(n), x.getPixelForValue(i), 665, { align: 'center', font: '22px ' + FONT });
      });
    }
  }]
});
</script>
</body>
</html>
